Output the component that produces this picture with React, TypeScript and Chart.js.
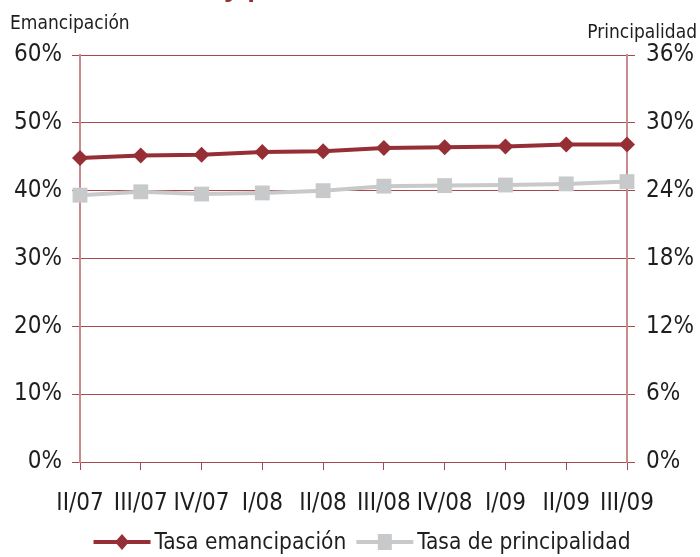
import React, { useEffect, useRef } from "react";
import { Chart, registerables } from "chart.js";
Chart.register(...registerables);

const categories = ["II/07", "III/07", "IV/07", "I/08", "II/08", "III/08", "IV/08", "I/09", "II/09", "III/09"];
const emancipacion = [44.8, 45.2, 45.3, 45.7, 45.8, 46.3, 46.4, 46.5, 46.8, 46.8];
const principalidad = [23.6, 23.9, 23.7, 23.8, 24.0, 24.4, 24.45, 24.5, 24.6, 24.8];
const leftTicks = [0, 10, 20, 30, 40, 50, 60];
const rightTicks = [0, 6, 12, 18, 24, 30, 36];
const seriesNames = ["Tasa emancipación", "Tasa de principalidad"];
const leftTitle = "Emancipación";
const rightTitle = "Principalidad";
const titleFragment = "y p";

const RED = "#952f35";
const GREY = "#c8c9cb";
const GRID = "#a8474c";
const AXIS = "#c98a8e";
const TEXT = "#1e1e1e";
const FONT = "'Liberation Sans Narrow', 'DejaVu Sans Condensed', 'Liberation Sans', sans-serif";

const legendPlugin = {
  id: "customLegend",
  afterDraw(chart: any) {
    const ctx = chart.ctx;
    ctx.save();
    // cropped title fragment at the very top
    ctx.font = `bold 28px 'Liberation Sans', sans-serif`;
    ctx.fillStyle = RED;
    ctx.textBaseline = "alphabetic";
    ctx.textAlign = "left";
    ctx.fillText(titleFragment, 224, -4);

    ctx.font = `22.5px ${FONT}`;
    const lineW = 57;
    const gapText = 4;
    const gapItem = 10;
    const items = chart.data.datasets.map((d: any) => ({
      label: d.label,
      color: d.borderColor,
      style: d.pointStyle,
      w: lineW + gapText + ctx.measureText(d.label).width,
    }));
    const total = items.reduce((s: number, it: any) => s + it.w, 0) + gapItem * (items.length - 1);
    let x = 362 - total / 2;
    const y = 542;
    for (const it of items) {
      ctx.strokeStyle = it.color;
      ctx.lineWidth = 4;
      ctx.beginPath();
      ctx.moveTo(x, y);
      ctx.lineTo(x + lineW, y);
      ctx.stroke();
      ctx.fillStyle = it.color;
      const cx = x + lineW / 2;
      ctx.beginPath();
      if (it.style === "rectRot") {
        ctx.moveTo(cx, y - 8);
        ctx.lineTo(cx + 7, y);
        ctx.lineTo(cx, y + 8);
        ctx.lineTo(cx - 7, y);
        ctx.closePath();
      } else {
        ctx.rect(cx - 7, y - 8, 14, 16);
      }
      ctx.fill();
      ctx.fillStyle = TEXT;
      ctx.textBaseline = "middle";
      ctx.textAlign = "left";
      ctx.fillText(it.label, x + lineW + gapText, y + 1);
      x += it.w + gapItem;
    }
    ctx.restore();
  },
};

export default function App() {
  const ref = useRef<HTMLCanvasElement>(null);
  useEffect(() => {
    if (!ref.current) return;
    const chart = new Chart(ref.current, {
      type: "line",
      data: {
        labels: categories,
        datasets: [
          {
            label: seriesNames[0],
            data: emancipacion,
            yAxisID: "y",
            borderColor: RED,
            backgroundColor: RED,
            borderWidth: 4,
            pointStyle: "rectRot",
            pointRadius: 8,
            pointBorderWidth: 0,
            clip: false,
            order: 1,
          },
          {
            label: seriesNames[1],
            data: principalidad,
            yAxisID: "y1",
            borderColor: GREY,
            backgroundColor: GREY,
            borderWidth: 4,
            pointStyle: "rect",
            pointRadius: 10.5,
            pointBorderWidth: 0,
            clip: false,
            order: 2,
          },
        ] as any,
      },
      options: {
        animation: false,
        responsive: false,
        maintainAspectRatio: false,
        layout: { padding: { top: 55, left: 0, right: 0, bottom: 0 } },
        plugins: { legend: { display: false }, tooltip: { enabled: false } },
        scales: {
          x: {
            offset: false,
            grid: { display: true, drawOnChartArea: false, drawTicks: true, tickLength: 8, color: GRID },
            border: { display: true, color: GRID },
            ticks: { color: TEXT, font: { family: FONT, size: 24 }, padding: 19, maxRotation: 0, autoSkip: false },
            afterFit: (s: any) => { s.height = 95; },
          },
          y: {
            position: "left",
            min: 0,
            max: 60,
            afterBuildTicks: (s: any) => { s.ticks = leftTicks.map((v) => ({ value: v })); },
            grid: { color: GRID, tickLength: 8, lineWidth: 1 },
            border: { display: true, color: AXIS, width: 2 },
            ticks: { color: TEXT, font: { family: FONT, size: 24 }, padding: 10, callback: (v: any) => v + "%" },
            afterFit: (s: any) => { s.width = 80; },
          },
          y1: {
            position: "right",
            min: 0,
            max: 36,
            afterBuildTicks: (s: any) => { s.ticks = rightTicks.map((v) => ({ value: v })); },
            grid: { color: GRID, tickLength: 8, drawOnChartArea: false },
            border: { display: true, color: AXIS, width: 2 },
            ticks: { color: TEXT, font: { family: FONT, size: 24 }, padding: 11, callback: (v: any) => v + "%" },
            afterFit: (s: any) => { s.width = 73; },
          },
        },
      } as any,
      plugins: [legendPlugin],
    });
    return () => chart.destroy();
  }, []);
  return (
    <div style={{ position: "absolute", left: 0, top: 0, width: 700, height: 557, background: "#fff", overflow: "hidden" }}>
      <canvas ref={ref} width={700} height={557} style={{ position: "absolute", left: 0, top: 0 }} />
      <div style={{ position: "absolute", left: 10, top: 11, font: `19px ${FONT}`, color: TEXT }}>{leftTitle}</div>
      <div style={{ position: "absolute", right: 3, top: 20, font: `19px ${FONT}`, color: TEXT }}>{rightTitle}</div>
    </div>
  );
}
